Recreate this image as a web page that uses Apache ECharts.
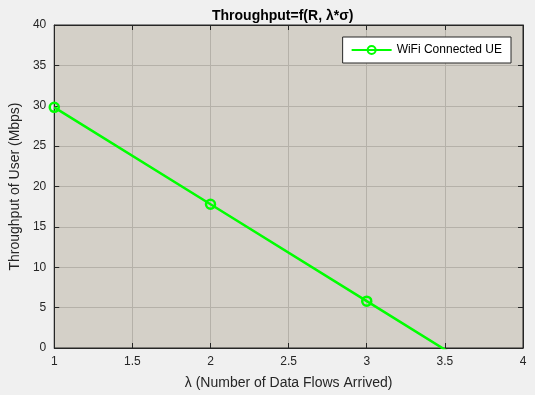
<!DOCTYPE html>
<html><head><meta charset="utf-8">
<script src="https://cdn.jsdelivr.net/npm/echarts@6/dist/echarts.min.js"></script>
<style>html,body{margin:0;padding:0;background:#f0f0f0;}#c{width:535px;height:395px;}</style>
</head><body><div id="c"></div>
<script>
const lambdaVals = [1, 2, 3, 4];
const throughput = [29.8, 17.8, 5.8, -6.2];
const seriesName = 'WiFi Connected UE';
const titleText = 'Throughput=f(R, λ*σ)';
const xLabel = 'λ (Number of Data Flows Arrived)';
const yLabel = 'Throughput of User (Mbps)';

const font = 'Liberation Sans, Arial, Helvetica, sans-serif';
const chart = echarts.init(document.getElementById('c'), null, {renderer: 'canvas'});
const axisCommon = {
  axisLine: {show: true, onZero: false, lineStyle: {color: '#262626', width: 1}},
  axisTick: {show: true, inside: true, length: 5, lineStyle: {color: '#262626'}},
  axisLabel: {color: '#262626', fontSize: 12, fontFamily: font},
};
chart.setOption({
  backgroundColor: '#f0f0f0',
  animation: false,
  title: {text: titleText, left: 207, top: 4,
    textStyle: {fontSize: 14, fontWeight: 'bold', color: '#000', fontFamily: font}},
  grid: {left: 51, right: 12, top: 25, bottom: 47, show: true, backgroundColor: '#d4d0c8', borderColor: '#262626', borderWidth: 1},
  legend: {show: true, right: 24, top: 37, orient: 'vertical', backgroundColor: '#fff', borderColor: '#262626', borderWidth: 1,
    padding: [7, 9, 7, 8], itemWidth: 40, itemHeight: 10, itemGap: 4,
    textStyle: {fontSize: 12, color: '#000', fontFamily: font}, data: [seriesName]},
  xAxis: [
    Object.assign({type: 'value', min: 1, max: 4, interval: 0.5, position: 'bottom',
      name: xLabel, nameLocation: 'middle', nameGap: 28,
      nameTextStyle: {fontSize: 14, color: '#262626', fontFamily: font},
      splitLine: {show: true, lineStyle: {color: '#b5b1a9', width: 1}}}, axisCommon, {axisLabel: Object.assign({}, axisCommon.axisLabel, {margin: 8})}),
    Object.assign({type: 'value', min: 1, max: 4, interval: 0.5, position: 'top', splitLine: {show: false}}, axisCommon, {axisLabel: {show: false}})
  ],
  yAxis: [
    Object.assign({type: 'value', min: 0, max: 40, interval: 5, position: 'left',
      name: yLabel, nameLocation: 'middle', nameGap: 26, nameRotate: 90,
      nameTextStyle: {fontSize: 14, color: '#262626', fontFamily: font},
      splitLine: {show: true, lineStyle: {color: '#b5b1a9', width: 1}}}, axisCommon),
    Object.assign({type: 'value', min: 0, max: 40, interval: 5, position: 'right', splitLine: {show: false}}, axisCommon, {axisLabel: {show: false}})
  ],
  series: [{
    name: seriesName, type: 'line', clip: true,
    data: lambdaVals.map((x, i) => [x, throughput[i]]),
    symbol: 'circle', symbolSize: 9, showAllSymbol: true,
    lineStyle: {color: '#00ff00', width: 2.5},
    itemStyle: {color: 'rgba(0,0,0,0)', borderColor: '#00ff00', borderWidth: 2.5},
    xAxisIndex: 0, yAxisIndex: 0
  }]
});
</script></body></html>
